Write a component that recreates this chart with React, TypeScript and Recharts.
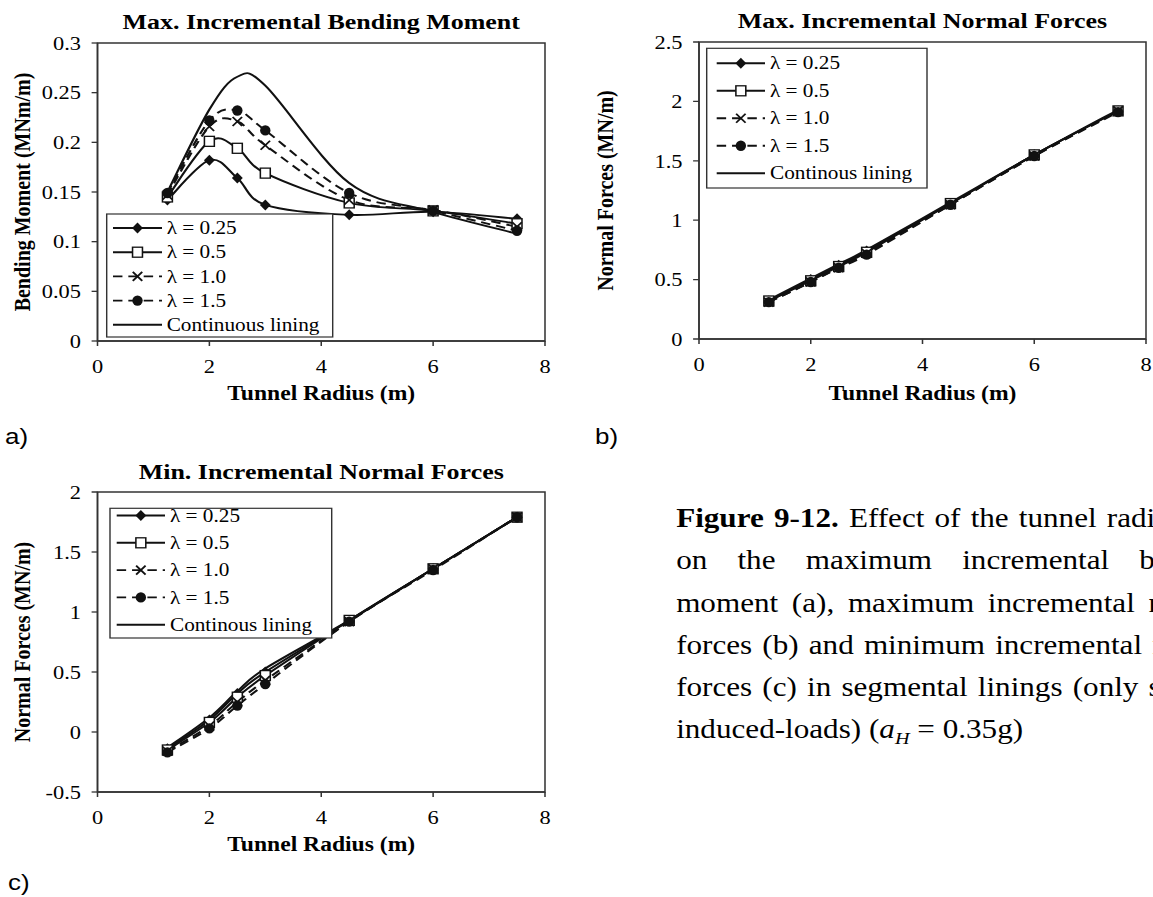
import React from 'react';
import { LineChart, Line, XAxis, YAxis, ReferenceArea } from 'recharts';

// ---------- data ----------
const radius = [1.25, 2, 2.5, 3, 4.5, 6, 7.5];

// a) Max. incremental bending moment (MNm/m)
const bmL025 = [0.142, 0.182, 0.164, 0.137, 0.127, 0.13, 0.123];
const bmL05 = [0.145, 0.201, 0.194, 0.169, 0.139, 0.131, 0.118];
const bmL10 = [0.147, 0.216, 0.221, 0.197, 0.142, 0.132, 0.115];
const bmL15 = [0.149, 0.222, 0.232, 0.212, 0.149, 0.131, 0.111];
const bmCont = [0.15, 0.233, 0.266, 0.257, 0.159, 0.13, 0.108];

// b) Max. incremental normal forces (MN/m)
const nmaxL025 = [0.32, 0.5, 0.62, 0.74, 1.14, 1.55, 1.92];
const nmaxL05 = [0.32, 0.49, 0.61, 0.73, 1.14, 1.55, 1.92];
const nmaxL10 = [0.31, 0.48, 0.6, 0.72, 1.13, 1.54, 1.92];
const nmaxL15 = [0.31, 0.48, 0.6, 0.71, 1.13, 1.54, 1.91];
const nmaxCont = [0.33, 0.51, 0.63, 0.75, 1.15, 1.55, 1.93];

// c) Min. incremental normal forces (MN/m)
const nminL025 = [-0.14, 0.1, 0.32, 0.5, 0.93, 1.36, 1.79];
const nminL05 = [-0.15, 0.08, 0.29, 0.47, 0.93, 1.36, 1.79];
const nminL10 = [-0.16, 0.05, 0.25, 0.43, 0.92, 1.36, 1.79];
const nminL15 = [-0.17, 0.03, 0.22, 0.4, 0.92, 1.35, 1.79];
const nminCont = [-0.13, 0.12, 0.34, 0.53, 0.93, 1.36, 1.79];

const lambdaNames = ['λ = 0.25', 'λ = 0.5', 'λ = 1.0', 'λ = 1.5'];
const contNameA = 'Continuous lining';
const contNameBC = 'Continous lining';

const xTicks = [0, 2, 4, 6, 8];
const bmTicks = [0, 0.05, 0.1, 0.15, 0.2, 0.25, 0.3];
const nmaxTicks = [0, 0.5, 1, 1.5, 2, 2.5];
const nminTicks = [-0.5, 0, 0.5, 1, 1.5, 2];

const titleA = 'Max. Incremental Bending Moment';
const titleB = 'Max. Incremental Normal Forces';
const titleC = 'Min. Incremental Normal Forces';
const xTitle = 'Tunnel Radius (m)';
const yTitleA = 'Bending Moment (MNm/m)';
const yTitleBC = 'Normal Forces (MN/m)';

// ---------- styling ----------
const S = 1.18; // horizontal stretch of the original figure
const PAGE_W = 1153;
const PAGE_H = 897;
const INNER_W = PAGE_W / S;
const FONT = '"Liberation Serif", "Times New Roman", Times, serif';
const SANS = '"Liberation Sans", Arial, sans-serif';
const INK = '#111';
const AXIS = '#333';
const YW = 70;
const XH = 60;

const seriesStyle = [
  { key: 'l025', marker: 'diamond', dash: undefined as string | undefined },
  { key: 'l05', marker: 'square', dash: undefined as string | undefined },
  { key: 'l10', marker: 'cross', dash: '8 5' },
  { key: 'l15', marker: 'circle', dash: '8 5' },
  { key: 'cont', marker: 'none', dash: undefined as string | undefined },
];

const buildRows = (sets: number[][]) =>
  radius.map((r, i) => ({
    r,
    l025: sets[0][i],
    l05: sets[1][i],
    l10: sets[2][i],
    l15: sets[3][i],
    cont: sets[4][i],
  }));

const rowsA = buildRows([bmL025, bmL05, bmL10, bmL15, bmCont]);
const rowsB = buildRows([nmaxL025, nmaxL05, nmaxL10, nmaxL15, nmaxCont]);
const rowsC = buildRows([nminL025, nminL05, nminL10, nminL15, nminCont]);

// Excel-like smoothed line (Catmull-Rom as cubic Bezier)
const excelCurve = (context: any) => {
  let pts: number[][] = [];
  return {
    areaStart() {},
    areaEnd() {},
    lineStart() {
      pts = [];
    },
    point(x: number, y: number) {
      pts.push([+x, +y]);
    },
    lineEnd() {
      const n = pts.length;
      if (!n) return;
      context.moveTo(pts[0][0], pts[0][1]);
      for (let i = 0; i < n - 1; i++) {
        const p0 = pts[Math.max(i - 1, 0)];
        const p1 = pts[i];
        const p2 = pts[i + 1];
        const p3 = pts[Math.min(i + 2, n - 1)];
        context.bezierCurveTo(
          p1[0] + (p2[0] - p0[0]) / 6,
          p1[1] + (p2[1] - p0[1]) / 6,
          p2[0] - (p3[0] - p1[0]) / 6,
          p2[1] - (p3[1] - p1[1]) / 6,
          p2[0],
          p2[1]
        );
      }
    },
  };
};

function Marker({ kind, cx, cy }: { kind: string; cx: number; cy: number }) {
  if (kind === 'diamond')
    return (
      <polygon
        points={`${cx},${cy - 5.5} ${cx + 4.6},${cy} ${cx},${cy + 5.5} ${cx - 4.6},${cy}`}
        fill={INK}
      />
    );
  if (kind === 'square')
    return <rect x={cx - 4.2} y={cy - 5} width={8.4} height={10} fill="#fff" stroke={INK} strokeWidth={1.3} />;
  if (kind === 'cross')
    return (
      <g stroke={INK} strokeWidth={1.6}>
        <line x1={cx - 4} y1={cy - 4.5} x2={cx + 4} y2={cy + 4.5} />
        <line x1={cx - 4} y1={cy + 4.5} x2={cx + 4} y2={cy - 4.5} />
      </g>
    );
  if (kind === 'circle') return <ellipse cx={cx} cy={cy} rx={4.4} ry={5.2} fill={INK} />;
  return null;
}

type PanelProps = {
  L: number;
  T: number;
  W: number;
  H: number;
  x0: number;
  x8: number;
  yTop: number;
  yBot: number;
  domain: [number, number];
  ticks: number[];
  rows: any[];
};

function Panel({ L, T, W, H, x0, x8, yTop, yBot, domain, ticks, rows }: PanelProps) {
  const margin = {
    top: yTop - T,
    left: x0 - L - YW,
    right: L + W - x8,
    bottom: T + H - yBot - XH,
  };
  const tickStyle = { fill: '#000', fontSize: 19, fontFamily: FONT };
  return (
    <div style={{ position: 'absolute', left: L, top: T, width: W, height: H }}>
      <LineChart width={W} height={H} data={rows} margin={margin}>
        <XAxis
          type="number"
          dataKey="r"
          domain={[0, 8]}
          ticks={xTicks}
          interval={0}
          height={XH}
          tickSize={5}
          tickMargin={14}
          stroke={AXIS}
          strokeWidth={1.3}
          tick={tickStyle}
        />
        <YAxis
          type="number"
          domain={domain}
          ticks={ticks}
          interval={0}
          width={YW}
          tickSize={5}
          tickMargin={9}
          stroke={AXIS}
          strokeWidth={1.3}
          tick={tickStyle}
          tickFormatter={(v: number) => String(v)}
        />
        <ReferenceArea
          x1={0}
          x2={8}
          y1={domain[0]}
          y2={domain[1]}
          fill="none"
          fillOpacity={0}
          stroke={AXIS}
          strokeWidth={1.3}
          ifOverflow="visible"
        />
        {seriesStyle.map((s) => (
          <Line
            key={s.key}
            dataKey={s.key}
            type={excelCurve as any}
            stroke={INK}
            strokeWidth={1.9}
            strokeDasharray={s.dash}
            isAnimationActive={false}
            activeDot={false}
            dot={(p: any) => <Marker key={`${s.key}-${p.index}`} kind={s.marker} cx={p.cx} cy={p.cy} />}
          />
        ))}
      </LineChart>
    </div>
  );
}

type LegendProps = {
  x1: number;
  x2: number;
  y1: number;
  y2: number;
  row0: number;
  pitch: number;
  s1: number;
  s2: number;
  tx: number;
  contName: string;
};

function LegendBox({ x1, x2, y1, y2, row0, pitch, s1, s2, tx, contName }: LegendProps) {
  const names = [...lambdaNames, contName];
  return (
    <g>
      <rect x={x1} y={y1} width={x2 - x1} height={y2 - y1} fill="#fff" stroke={AXIS} strokeWidth={1.2} />
      {seriesStyle.map((s, i) => {
        const y = row0 + i * pitch;
        return (
          <g key={s.key}>
            <line x1={s1} x2={s2} y1={y} y2={y} stroke={INK} strokeWidth={1.9} strokeDasharray={s.dash} />
            <Marker kind={s.marker} cx={(s1 + s2) / 2} cy={y} />
            <text x={tx} y={y} dy="0.34em" fontSize={18} fontFamily={FONT} fill="#000">
              {names[i]}
            </text>
          </g>
        );
      })}
    </g>
  );
}

// ---------- layout (inner, un-stretched coordinates) ----------
const A = { L: 0, T: 0, W: 480, H: 420, x0: 97.5 / S, x8: 545 / S, yTop: 43, yBot: 341 };
const B = { L: 510, T: 0, W: 467, H: 420, x0: 699 / S, x8: 1146 / S, yTop: 42, yBot: 339 };
const C = { L: 0, T: 450, W: 480, H: 420, x0: 97.5 / S, x8: 545 / S, yTop: 492, yBot: 792 };

const captionX = 573;
const captionBase = [527, 569.5, 611.7, 653.7, 696, 738.3];
const captionSize = 26.4;

export default function App() {
  const cA = (A.x0 + A.x8) / 2;
  const cB = (B.x0 + B.x8) / 2;
  const cC = (C.x0 + C.x8) / 2;
  const titleStyle = { fontSize: 22, fontWeight: 700, fontFamily: FONT, fill: '#000' } as const;
  const axisTitleStyle = { fontSize: 20, fontWeight: 700, fontFamily: FONT, fill: '#000' } as const;
  const capStyle = { fontSize: captionSize, fontFamily: FONT, fill: '#000' } as const;
  return (
    <div
      style={{
        position: 'absolute',
        left: 0,
        top: 0,
        width: PAGE_W,
        height: PAGE_H,
        overflow: 'hidden',
        background: '#fff',
      }}
    >
      <div
        style={{
          position: 'absolute',
          left: 0,
          top: 0,
          width: INNER_W,
          height: PAGE_H,
          transform: `scale(${S}, 1)`,
          transformOrigin: '0 0',
        }}
      >
        <Panel {...A} domain={[0, 0.3]} ticks={bmTicks} rows={rowsA} />
        <Panel {...B} domain={[0, 2.5]} ticks={nmaxTicks} rows={rowsB} />
        <Panel {...C} domain={[-0.5, 2]} ticks={nminTicks} rows={rowsC} />

        <svg
          width={INNER_W}
          height={PAGE_H}
          style={{ position: 'absolute', left: 0, top: 0, overflow: 'visible', pointerEvents: 'none' }}
        >
          {/* titles */}
          <text x={cA} y={29} textAnchor="middle" style={titleStyle}>
            {titleA}
          </text>
          <text x={cB} y={28} textAnchor="middle" style={titleStyle}>
            {titleB}
          </text>
          <text x={cC} y={479} textAnchor="middle" style={titleStyle}>
            {titleC}
          </text>

          {/* x axis titles */}
          <text x={cA} y={400} textAnchor="middle" style={axisTitleStyle}>
            {xTitle}
          </text>
          <text x={cB} y={400} textAnchor="middle" style={axisTitleStyle}>
            {xTitle}
          </text>
          <text x={cC} y={851} textAnchor="middle" style={axisTitleStyle}>
            {xTitle}
          </text>

          {/* y axis titles */}
          <text
            transform={`translate(${22 / S}, ${(A.yTop + A.yBot) / 2}) rotate(-90)`}
            textAnchor="middle"
            dy="0.35em"
            style={axisTitleStyle}
          >
            {yTitleA}
          </text>
          <text
            transform={`translate(${605 / S}, ${(B.yTop + B.yBot) / 2}) rotate(-90)`}
            textAnchor="middle"
            dy="0.35em"
            style={axisTitleStyle}
          >
            {yTitleBC}
          </text>
          <text
            transform={`translate(${22 / S}, ${(C.yTop + C.yBot) / 2}) rotate(-90)`}
            textAnchor="middle"
            dy="0.35em"
            style={axisTitleStyle}
          >
            {yTitleBC}
          </text>

          {/* legends */}
          <LegendBox
            x1={106.7 / S}
            x2={332.7 / S}
            y1={214}
            y2={337}
            row0={228}
            pitch={24.2}
            s1={113 / S}
            s2={162 / S}
            tx={166.7 / S}
            contName={contNameA}
          />
          <LegendBox
            x1={706.7 / S}
            x2={927 / S}
            y1={48.3}
            y2={188}
            row0={63.3}
            pitch={27.5}
            s1={716.7 / S}
            s2={765 / S}
            tx={770 / S}
            contName={contNameBC}
          />
          <LegendBox
            x1={110 / S}
            x2={331.7 / S}
            y1={508.3}
            y2={638}
            row0={515.5}
            pitch={27.3}
            s1={116.7 / S}
            s2={165 / S}
            tx={170 / S}
            contName={contNameBC}
          />

          {/* panel letters */}
          <text x={5 / S} y={444} fontSize={22} fontFamily={SANS} fill="#000">
            a)
          </text>
          <text x={595 / S} y={444} fontSize={22} fontFamily={SANS} fill="#000">
            b)
          </text>
          <text x={8 / S} y={890} fontSize={22} fontFamily={SANS} fill="#000">
            c)
          </text>

          {/* caption */}
          <text x={captionX} y={captionBase[0]} style={{ ...capStyle, wordSpacing: 2 }}>
            <tspan fontWeight={700}>Figure 9-12.</tspan>
            <tspan> Effect of the tunnel radius</tspan>
          </text>
          <text x={captionX} y={captionBase[1]} style={{ ...capStyle, wordSpacing: 19 }}>
            on the maximum incremental bending
          </text>
          <text x={captionX} y={captionBase[2]} style={{ ...capStyle, wordSpacing: 5 }}>
            moment (a), maximum incremental normal
          </text>
          <text x={captionX} y={captionBase[3]} style={{ ...capStyle, wordSpacing: 2 }}>
            forces (b) and minimum incremental normal
          </text>
          <text x={captionX} y={captionBase[4]} style={{ ...capStyle, wordSpacing: 2 }}>
            forces (c) in segmental linings (only seismic
          </text>
          <text x={captionX} y={captionBase[5]} style={capStyle}>
            <tspan>induced-loads) (</tspan>
            <tspan fontStyle="italic">a</tspan>
            <tspan fontStyle="italic" fontSize={captionSize * 0.65} dy={6}>
              H
            </tspan>
            <tspan dy={-6}> = 0.35g)</tspan>
          </text>
        </svg>
      </div>
    </div>
  );
}
